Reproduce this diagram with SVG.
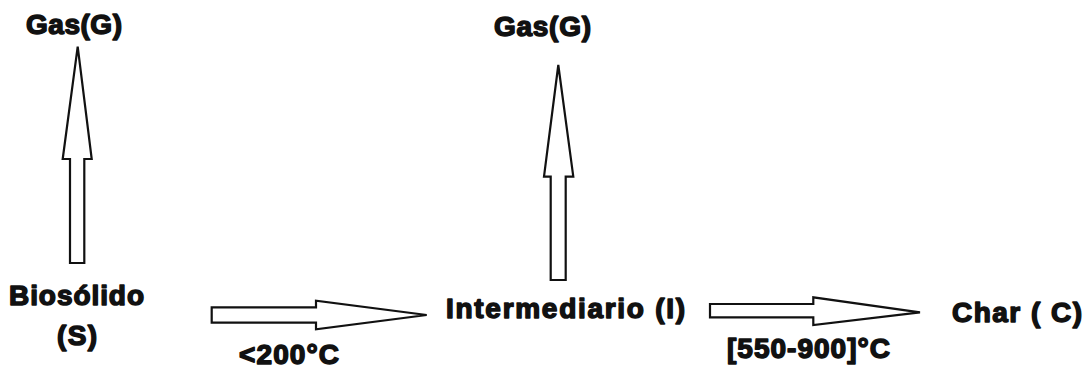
<svg xmlns="http://www.w3.org/2000/svg" width="1086" height="368" viewBox="0 0 1086 368">
  <style>
    .lbl { font-family: "Liberation Sans", Arial, sans-serif; font-weight: bold; font-size: 28px; fill: #111; stroke: #111; stroke-width: 1.5; stroke-linejoin: round; }
    .arrow { fill: #fff; stroke: #111; stroke-width: 2.2; stroke-linejoin: miter; }
  </style>
  <rect width="1086" height="368" fill="#fff"/>

  <g id="gas-1">
    <text class="lbl" x="26" y="33.5" textLength="96" lengthAdjust="spacing">Gas(G)</text>
  </g>
  <g id="biosolido">
    <text class="lbl" x="9" y="305" textLength="135" lengthAdjust="spacing">Biosólido</text>
    <text class="lbl" x="57" y="344.5" textLength="40" lengthAdjust="spacing">(S)</text>
  </g>
  <g id="gas-2">
    <text class="lbl" x="494" y="36" textLength="97" lengthAdjust="spacing">Gas(G)</text>
  </g>
  <g id="intermediario">
    <text class="lbl" x="446" y="318" textLength="239" lengthAdjust="spacing">Intermediario (I)</text>
  </g>
  <g id="char">
    <text class="lbl" x="952" y="321.5" textLength="130" lengthAdjust="spacing">Char ( C)</text>
  </g>

  <g id="connectors">
    <!-- S -> G (up) -->
    <polygon class="arrow" points="70,263 84.3,263 84.3,159 91.7,159 77.7,46.7 62.7,159 70,159"/>
    <!-- I -> G (up) -->
    <polygon class="arrow" points="550.7,280 565.7,280 565.7,176.7 573.3,176.7 558.3,65 544,176.7 550.7,176.7"/>
    <!-- S -> I -->
    <polygon class="arrow" points="211.7,307.3 316,307.3 316,300.7 426.7,315 316,329.3 316,322.7 211.7,322.7"/>
    <text class="lbl" x="239" y="364" textLength="100" lengthAdjust="spacing">&lt;200°C</text>
    <!-- I -> C -->
    <polygon class="arrow" points="710,304 813.3,304 813.3,297.3 920,312.3 813.3,325 813.3,317.3 710,317.3"/>
    <text class="lbl" x="727" y="358" textLength="163" lengthAdjust="spacing">[550-900]°C</text>
  </g>
</svg>
